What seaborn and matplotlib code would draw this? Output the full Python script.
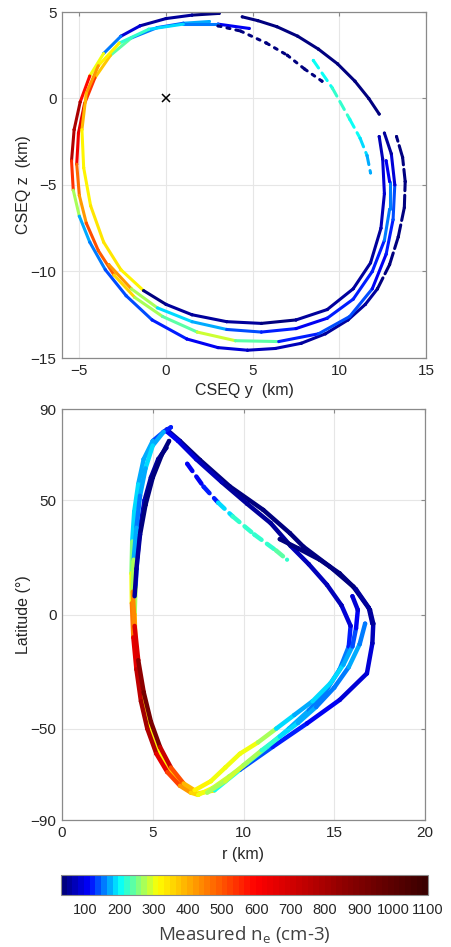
import numpy as np
import matplotlib
matplotlib.use("Agg")
import matplotlib.pyplot as plt
import seaborn as sns
import pandas as pd
from matplotlib.collections import LineCollection
from matplotlib.colors import LinearSegmentedColormap, Normalize

# ---- top panel: CSEQ y / z tracks (km) and measured ne ----
t1_y = [3.07, 1.5, 0.0, -1.5, -2.6, -3.6, -4.4, -4.95, -5.3, -5.45, -5.35, -5.0, -4.4, -3.5, -2.3, -0.8, 1.2, 3.0, 4.7, 6.3, 7.8, 9.2, 10.5, 11.5, 12.2]
t1_z = [4.92, 4.82, 4.62, 4.2, 3.6, 2.6, 1.3, -0.2, -1.8, -3.6, -5.3, -6.8, -8.3, -9.9, -11.4, -12.8, -13.9, -14.4, -14.55, -14.45, -14.15, -13.6, -12.8, -11.9, -11.0]
t1_ne = [45, 45, 50, 60, 120, 200, 420, 760, 820, 720, 350, 180, 160, 150, 140, 130, 110, 95, 85, 75, 65, 60, 55, 50, 50]

t2_y = [12.2, 12.9, 13.4, 13.75, 13.8, 13.65, 13.3]
t2_z = [-11.0, -9.6, -8.0, -6.3, -4.8, -3.4, -2.2]
t2_ne = [40, 40, 42, 40, 40, 42, 40]

t3_y = [4.4, 5.3, 6.4, 7.6, 8.8, 9.9, 10.9, 11.7, 12.3]
t3_z = [4.72, 4.5, 4.15, 3.6, 2.85, 2.0, 1.0, 0.0, -0.9]
t3_ne = [40, 40, 42, 45, 40, 42, 40, 40, 40]

t4_y = [2.5, 1.0, -0.5, -2.0, -3.2, -4.1, -4.7, -5.05, -5.15, -5.0, -4.6, -3.9, -3.0, -1.8, -0.2, 1.8, 4.0, 6.5, 8.8, 10.6, 11.9, 12.7, 13.1, 13.2, 13.0, 12.6]
t4_z = [4.45, 4.35, 4.1, 3.5, 2.5, 1.2, -0.3, -2.0, -3.8, -5.6, -7.2, -8.8, -10.2, -11.5, -12.6, -13.5, -14.0, -14.05, -13.6, -12.6, -11.0, -9.0, -7.0, -5.0, -3.2, -2.0]
t4_ne = [170, 160, 130, 190, 300, 450, 620, 700, 560, 380, 450, 560, 420, 300, 230, 250, 320, 150, 110, 170, 120, 100, 160, 110, 70, 50]

t5a_y = [8.5, 9.6, 10.6, 11.2, 11.6, 11.8]
t5a_z = [2.2, 0.6, -1.2, -2.3, -3.3, -4.3]
t5a_ne = [190, 230, 200, 210, 180, 170]

t5_y = [4.8, 3.0, 1.0, -1.0, -2.7, -3.9, -4.6, -4.85, -4.75, -4.35, -3.6, -2.6, -1.3]
t5_z = [4.05, 4.3, 4.3, 4.0, 3.2, 1.9, 0.3, -1.8, -4.0, -6.2, -8.3, -9.9, -11.1]
t5_ne = [60, 140, 180, 200, 260, 380, 450, 330, 320, 330, 340, 350, 300]

t6_y = [3.0, 4.3, 5.8, 7.0, 8.0, 9.0]
t6_z = [4.2, 3.9, 3.2, 2.5, 1.7, 1.0]
t6_ne = [45, 45, 45, 45, 45, 45]

t7_y = [-1.3, 0.0, 1.5, 3.5, 5.5, 7.5, 9.3, 10.8, 11.8, 12.4, 12.6, 12.5, 12.3]
t7_z = [-11.1, -11.9, -12.5, -12.9, -13.0, -12.8, -12.2, -11.0, -9.5, -7.5, -5.5, -3.5, -2.2]
t7_ne = [40, 45, 50, 50, 45, 45, 50, 50, 45, 50, 90, 100, 60]

t8_y = [-3.3, -2.0, -0.5, 1.5, 3.5, 5.5, 7.5, 9.3, 10.8, 11.9, 12.6, 12.9, 12.9, 12.7]
t8_z = [-9.6, -11.0, -12.1, -12.9, -13.35, -13.5, -13.3, -12.7, -11.6, -10.0, -8.2, -6.4, -4.8, -3.6]
t8_ne = [500, 330, 200, 180, 150, 130, 100, 110, 150, 100, 130, 180, 120, 80]

# ---- bottom panel: r (km) / latitude (deg) tracks ----
b1_r = [5.75, 5.3, 4.9, 4.55, 4.3, 4.15, 4.05, 4.0, 4.05, 4.25, 4.6, 5.1, 5.8, 6.6, 7.4, 8.4, 9.8, 11.6, 13.5, 15.3, 16.8, 17.1, 17.15, 16.97, 16.05, 14.77, 13.3, 12.56, 11.09, 9.26, 7.6, 6.5, 5.77]
b1_lat = [73, 68, 60, 50, 38, 25, 12, 0, -14, -30, -45, -57, -67, -74, -78.5, -77, -68, -58, -47.7, -37.4, -25.8, -12.6, -4, 2, 12.2, 20.9, 29.7, 35.6, 45.8, 56, 67.7, 76, 81]
b1_ne = [45, 50, 55, 70, 90, 110, 200, 330, 420, 380, 330, 300, 330, 380, 420, 250, 150, 120, 110, 100, 90, 80, 60, 45, 40, 40, 40, 40, 42, 40, 40, 45, 50]

b2_r = [5.6, 5.0, 4.5, 4.2, 3.98, 3.87, 3.83, 3.85, 3.93, 4.1, 4.35, 4.7, 5.2, 5.8, 6.5, 7.1, 7.5, 8.3, 9.2, 10.2, 11.3, 12.5, 13.6, 14.5, 15.3, 15.8, 15.9, 15.4, 14.6, 13.6, 12.6, 11.5, 10.2, 8.8, 7.4, 6.4, 5.8]
b2_lat = [80, 76, 68, 57, 45, 32, 18, 5, -10, -24, -38, -50, -61, -69, -75, -78, -79, -76, -71, -65, -58, -50, -42, -34, -24, -14, -5, 4, 13, 22, 30, 40, 48.5, 58, 68, 76, 80]
b2_ne = [110, 180, 150, 200, 170, 220, 300, 320, 600, 700, 780, 850, 700, 600, 450, 380, 320, 280, 300, 250, 200, 180, 170, 150, 160, 140, 100, 70, 60, 80, 60, 50, 45, 60, 80, 100, 110]

b3_r = [6.0, 5.6, 5.0, 4.6, 4.3, 4.1, 3.95, 3.9, 4.0, 4.2, 4.5, 4.9, 5.4, 6.0, 6.7, 7.3, 8.2, 9.0, 9.8, 10.8, 11.8, 12.8, 13.8, 14.8, 15.5, 16.0, 16.2, 16.3, 16.0]
b3_lat = [82, 80, 74, 64, 52, 38, 24, 10, -5, -20, -34, -47, -58, -67, -74, -77, -73, -67, -61, -56, -50, -44, -38, -30, -22, -14, -6, 2, 8]
b3_ne = [80, 150, 180, 200, 150, 160, 200, 330, 550, 800, 900, 950, 850, 600, 420, 350, 300, 320, 280, 330, 200, 180, 180, 200, 180, 150, 120, 100, 80]

b4_r = [6.9, 7.8, 8.6, 9.4, 10.6, 11.8, 12.4]
b4_lat = [66, 56, 49, 43, 35, 28, 24]
b4_ne = [120, 100, 150, 230, 200, 250, 220]

b5_r = [12.0, 13.0, 14.2, 15.3, 16.2, 16.9, 17.1]
b5_lat = [33, 29, 24, 18, 11, 3, -4]
b5_ne = [40, 40, 42, 40, 45, 50, 60]

b6_r = [5.9, 5.5, 5.0, 4.6, 4.3, 4.1, 4.0]
b6_lat = [76, 70, 60, 48, 35, 20, 8]
b6_ne = [40, 40, 42, 40, 45, 50, 60]

b7_r = [8.0, 9.0, 10.0, 11.0, 12.0, 13.0, 14.0, 15.0, 15.8, 16.4, 16.7]
b7_lat = [-78, -73, -66, -59.5, -53.5, -47.5, -40.5, -32, -23, -13, -4]
b7_ne = [260, 300, 280, 250, 200, 170, 160, 150, 160, 170, 130]

cbar_ticks = [100, 200, 300, 400, 500, 600, 700, 800, 900, 1000, 1100]
ne_min, ne_max = 30, 1100

top_tracks = [(t1_y, t1_z, t1_ne, "-"), (t2_y, t2_z, t2_ne, (0, (4, 1.5))),
              (t3_y, t3_z, t3_ne, "-"), (t4_y, t4_z, t4_ne, "-"),
              (t5a_y, t5a_z, t5a_ne, (0, (3, 2))), (t5_y, t5_z, t5_ne, "-"),
              (t6_y, t6_z, t6_ne, (0, (1, 2))), (t8_y, t8_z, t8_ne, "-"),
              (t7_y, t7_z, t7_ne, "-")]
bot_tracks = [(b1_r, b1_lat, b1_ne, "-"), (b2_r, b2_lat, b2_ne, "-"),
              (b7_r, b7_lat, b7_ne, "-"),
              (b3_r, b3_lat, b3_ne, "-"), (b4_r, b4_lat, b4_ne, (0, (2, 1.5))),
              (b5_r, b5_lat, b5_ne, "-"), (b6_r, b6_lat, b6_ne, "-")]

sns.set_style("white")
plt.rcParams["font.family"] = ["Liberation Sans", "DejaVu Sans"]

cmap = LinearSegmentedColormap.from_list(
    "ne", [(0.0, "#00007f"), (0.07, "#0000ff"), (0.155, "#00ffff"),
           (0.205, "#80ff80"), (0.26, "#ffff00"), (0.39, "#ff8000"),
           (0.53, "#ff0000"), (0.78, "#8c0000"), (1.0, "#3a0000")], N=64)
norm = Normalize(ne_min, ne_max)


def draw_tracks(ax, tracks, lw, ms):
    for xs, ys, vals, ls in tracks:
        pts = np.column_stack([xs, ys])
        segs = np.stack([pts[:-1], pts[1:]], axis=1)
        v = np.array(vals, dtype=float)
        lc = LineCollection(segs, colors=cmap(norm((v[:-1] + v[1:]) / 2)),
                            linewidths=lw, linestyles=ls, capstyle="round",
                            joinstyle="round")
        ax.add_collection(lc)
        df = pd.DataFrame({"x": xs, "y": ys, "ne": vals})
        sns.scatterplot(data=df, x="x", y="y", hue="ne", palette=cmap,
                        hue_norm=norm, s=ms, linewidth=0, legend=False, ax=ax)


def style_axes(ax):
    ax.grid(True, color="#e6e6e6", linewidth=0.8)
    ax.set_axisbelow(True)
    for s in ax.spines.values():
        s.set_visible(True)
        s.set_color("#8a8a8a")
        s.set_linewidth(0.9)
    ax.tick_params(direction="in", length=3, width=0.8, color="#8a8a8a",
                   labelsize=11, labelcolor="#262626", top=True, right=True,
                   pad=4)


fig = plt.figure(figsize=(4.52, 9.47), dpi=100)

ax1 = fig.add_axes([62 / 452, 1 - 358 / 947, 364 / 452, 346 / 947])
draw_tracks(ax1, top_tracks, 2.2, 5)
ax1.plot([0], [0], marker="x", color="black", markersize=6, mew=1.1)
ax1.set_xlim(-6, 15)
ax1.set_ylim(-15, 5)
ax1.set_xticks([-5, 0, 5, 10, 15])
ax1.set_yticks([-15, -10, -5, 0, 5])
ax1.set_xlabel("CSEQ y  (km)", fontsize=11.5, color="#262626", labelpad=4)
ax1.set_ylabel("CSEQ z  (km)", fontsize=11.5, color="#262626", labelpad=0)
style_axes(ax1)

ax2 = fig.add_axes([62 / 452, 1 - 820 / 947, 363 / 452, 411 / 947])
draw_tracks(ax2, bot_tracks, 3.2, 9)
ax2.set_xlim(0, 20)
ax2.set_ylim(-90, 90)
ax2.set_xticks([0, 5, 10, 15, 20])
ax2.set_yticks([-90, -50, 0, 50, 90])
ax2.set_xlabel("r (km)", fontsize=11.5, color="#262626", labelpad=5)
ax2.set_ylabel("Latitude (°)", fontsize=11.5, color="#262626", labelpad=0)
style_axes(ax2)

cax = fig.add_axes([61 / 452, 1 - 895 / 947, 367 / 452, 20 / 947])
sm = plt.cm.ScalarMappable(norm=norm, cmap=cmap)
cb = fig.colorbar(sm, cax=cax, orientation="horizontal", ticks=cbar_ticks)
cb.outline.set_edgecolor("#8a8a8a")
cb.outline.set_linewidth(0.8)
cax.tick_params(direction="in", length=3, width=0.8, color="#555555",
                labelsize=10.5, labelcolor="#262626", pad=6)
cb.set_label("Measured n$_\\mathregular{e}$ (cm-3)", fontsize=13.5,
             color="#404040", family=["Open Sans", "DejaVu Sans"], labelpad=5)

fig.savefig("out.png", dpi=100)
